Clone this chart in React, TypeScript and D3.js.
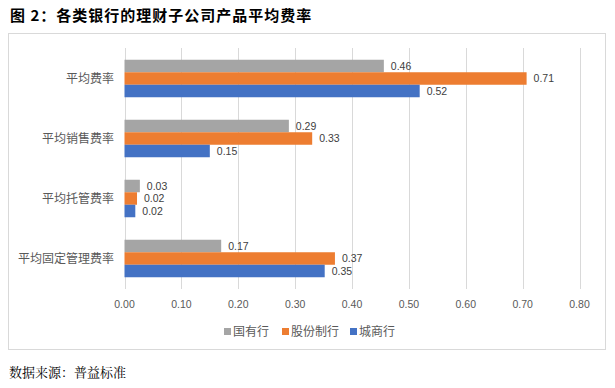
import React from "react";
import * as d3 from "d3";

const categories = ["平均费率", "平均销售费率", "平均托管费率", "平均固定管理费率"];
const seriesNames = ["国有行", "股份制行", "城商行"];
const seriesColors = ["#A5A5A5", "#ED7D31", "#4472C4"];
const stateOwned = [0.456, 0.289, 0.027, 0.17];
const joinStock = [0.707, 0.33, 0.022, 0.37];
const cityBanks = [0.519, 0.15, 0.019, 0.352];
const xTicks = [0, 0.1, 0.2, 0.3, 0.4, 0.5, 0.6, 0.7, 0.8];

const W = 615;
const H = 388;
const cjk = "'Noto Sans CJK SC', 'Noto Sans', sans-serif";
const num = "'Liberation Sans', 'DejaVu Sans', sans-serif";
const serif = "'Noto Serif CJK SC', 'Noto Sans CJK SC', serif";

export default function App() {
  const values = [stateOwned, joinStock, cityBanks];
  const x = d3.scaleLinear().domain([0, 0.8]).range([124.5, 579.5]);
  const y = d3
    .scaleBand<string>()
    .domain(categories)
    .range([48.5, 288.5])
    .paddingInner(0.375)
    .paddingOuter(0.1875);
  const sub = d3
    .scaleBand<string>()
    .domain(seriesNames)
    .range([0, y.bandwidth()]);
  const fmt = d3.format(".2f");

  const legendItems = [
    { x: 224, w: 46 },
    { x: 282, w: 58 },
    { x: 350, w: 46 },
  ];

  return (
    <svg
      width={W}
      height={H}
      style={{ position: "absolute", left: 0, top: 0, background: "#fff" }}
    >
      <rect x={0} y={0} width={W} height={H} fill="#fff" />
      <text
        x={10}
        y={20.5}
        fontFamily={cjk}
        fontWeight="bold"
        fontSize={15}
        letterSpacing={1}
        fill="#000"
      >
        图 2：各类银行的理财子公司产品平均费率
      </text>
      <rect
        x={8.5}
        y={33.5}
        width={597}
        height={316}
        fill="#fff"
        stroke="#D9D9D9"
        strokeWidth={1}
      />
      {xTicks.map((t) => (
        <g key={t}>
          <line
            x1={Math.round(x(t)) + 0.5}
            x2={Math.round(x(t)) + 0.5}
            y1={48}
            y2={289}
            stroke="#D9D9D9"
            strokeWidth={1}
          />
          <text
            x={x(t)}
            y={308}
            textAnchor="middle"
            fontFamily={num}
            fontSize={10.5}
            fill="#595959"
          >
            {fmt(t)}
          </text>
        </g>
      ))}
      {categories.map((c) => (
        <text
          key={c}
          x={114}
          y={(y(c) as number) + y.bandwidth() / 2}
          dy="0.35em"
          textAnchor="end"
          fontFamily={cjk}
          fontSize={12}
          fill="#595959"
        >
          {c}
        </text>
      ))}
      {seriesNames.map((s, si) =>
        categories.map((c, ci) => {
          const v = values[si][ci];
          const by = (y(c) as number) + (sub(s) as number);
          return (
            <g key={s + c}>
              <rect
                x={x(0)}
                y={by}
                width={x(v) - x(0)}
                height={sub.bandwidth()}
                fill={seriesColors[si]}
              />
              <text
                x={x(v) + 7}
                y={by + sub.bandwidth() / 2}
                dy="0.35em"
                fontFamily={num}
                fontSize={10.5}
                fill="#404040"
              >
                {fmt(v)}
              </text>
            </g>
          );
        })
      )}
      {seriesNames.map((s, i) => (
        <g key={s}>
          <rect
            x={legendItems[i].x}
            y={328}
            width={7}
            height={7}
            fill={seriesColors[i]}
          />
          <text
            x={legendItems[i].x + 9}
            y={332}
            dy="0.35em"
            fontFamily={cjk}
            fontSize={12}
            fill="#595959"
          >
            {s}
          </text>
        </g>
      ))}
      <text x={9} y={377} fontFamily={serif} fontSize={13} fill="#000">
        数据来源：普益标准
      </text>
    </svg>
  );
}
